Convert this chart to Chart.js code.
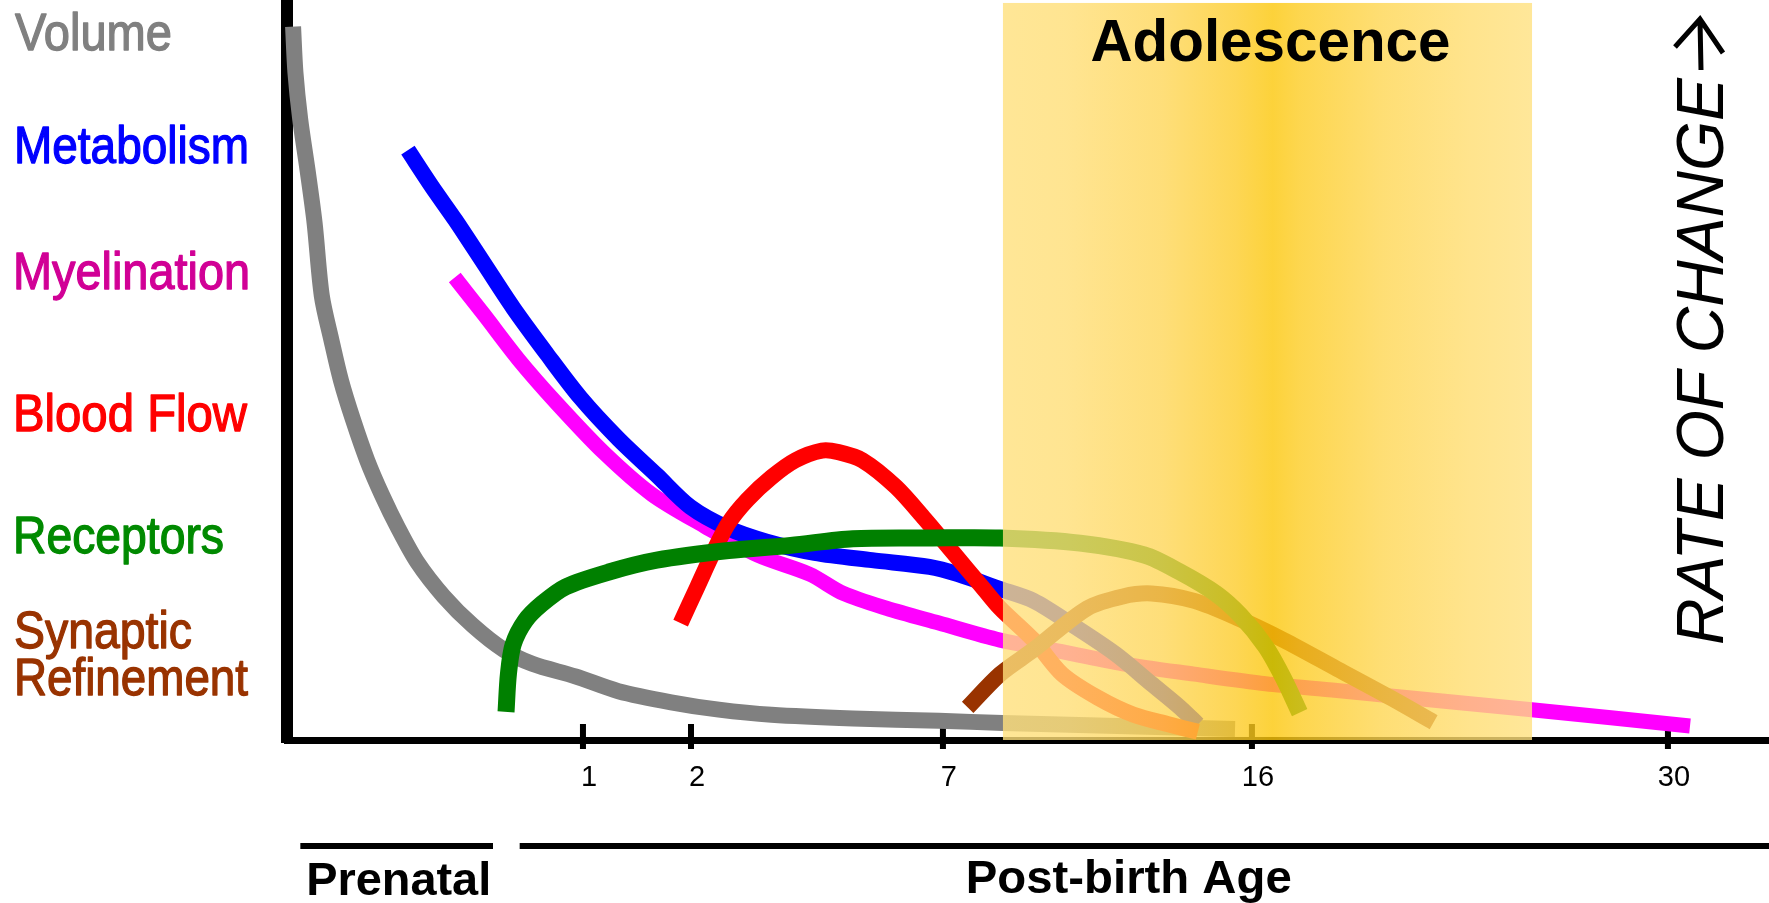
<!DOCTYPE html>
<html><head><meta charset="utf-8">
<script src="https://cdn.jsdelivr.net/npm/chart.js@4/dist/chart.umd.min.js"></script>
<style>html,body{margin:0;padding:0;background:#fff;overflow:hidden}canvas{display:block}</style>
</head><body>
<canvas id="c" width="1769" height="903"></canvas>
<script>
// ---- data (x: position along the age axis, 0-100; y: rate of change, 0-100) ----
const volume = [[0.41,96.4],[0.57,90.2],[0.89,83.9],[1.38,77.1],[1.86,69.9],[2.35,60.0],[2.99,54.1],[3.64,48.6],[4.45,43.3],[5.41,37.8],[6.39,33.2],[7.51,28.6],[8.80,24.0],[10.58,19.4],[12.52,15.5],[14.62,12.2],[16.55,10.3],[19.46,8.6],[22.36,6.6],[25.92,5.1],[29.14,4.1],[32.69,3.4],[38.18,2.9],[43.99,2.6],[48.31,2.3],[56.0,1.9],[63.97,1.5]];
const metabolism = [[8.16,79.7],[9.77,74.8],[11.38,70.2],[13.32,64.3],[15.26,58.4],[17.52,52.2],[19.78,46.3],[22.36,40.7],[24.95,35.8],[27.21,31.5],[29.79,28.6],[32.37,26.8],[35.60,25.3],[39.47,24.3],[43.35,23.4],[45.28,22.4],[48.12,20.4],[50.38,18.8],[53.03,15.5],[55.92,11.6],[58.33,7.6],[60.26,4.4],[61.46,2.1]];
const myelination = [[11.32,62.5],[13.32,57.4],[15.59,51.5],[18.16,45.6],[21.40,38.8],[24.62,33.2],[28.17,28.9],[31.73,25.0],[35.27,22.4],[37.54,19.8],[40.45,17.8],[43.99,15.8],[48.12,13.5],[51.58,12.2],[56.40,10.3],[61.22,8.9],[66.04,7.6],[70.85,6.7],[75.68,5.7],[83.99,4.1],[94.67,1.9]];
const bloodFlow = [[26.56,15.8],[27.69,20.7],[28.82,25.6],[29.79,29.3],[31.08,32.5],[32.69,35.5],[34.31,37.8],[36.09,39.1],[37.21,38.9],[38.83,37.8],[41.09,34.2],[43.02,29.9],[44.96,25.3],[46.90,20.7],[48.12,17.8],[50.38,13.5],[52.30,8.9],[54.72,5.7],[57.13,3.4],[59.53,2.1],[61.46,1.1]];
const receptors = [[14.78,3.8],[14.94,8.9],[15.26,12.9],[16.07,16.1],[17.20,18.4],[18.81,20.7],[21.72,22.7],[24.95,24.3],[29.79,25.6],[33.99,26.3],[38.18,27.2],[43.35,27.3],[48.12,27.3],[53.51,26.6],[57.85,25.0],[60.26,22.7],[62.67,19.8],[64.35,16.8],[66.04,12.6],[67.25,8.3],[68.33,3.7]];
const synapticRefinement = [[45.93,4.4],[48.12,8.9],[50.38,12.2],[53.99,17.8],[56.40,19.4],[58.33,19.8],[61.22,18.8],[64.11,16.5],[67.25,13.5],[70.86,9.6],[74.47,5.7],[77.37,2.4]];

const tickPositions = [19.97, 27.26, 44.26, 65.11, 93.18];
const tickLabels = ['1', '2', '7', '16', '30'];
const adolescenceSpan = [48.31, 84.01];
const prenatalSpan = [0.9, 13.9];
const postBirthSpan = [15.7, 100];

// ---- drawing ----
const FONT = "'Liberation Sans', Arial, sans-serif";
const toXY = a => a.map(p => ({x: p[0], y: p[1]}));
function ds(label, pts, color, order, width) {
  return {label, data: toXY(pts), borderColor: color, backgroundColor: color,
    borderWidth: width, pointRadius: 0, pointHoverRadius: 0, tension: 0.3,
    fill: false, borderCapStyle: 'butt', borderJoinStyle: 'round', order, clip: false};
}

function fitText(ctx, text, x, y, font, color, width, align, rot, stroke) {
  ctx.save();
  ctx.font = font; ctx.fillStyle = color; ctx.strokeStyle = color;
  ctx.textBaseline = 'alphabetic'; ctx.textAlign = 'left';
  const w = ctx.measureText(text).width;
  const s = width / w;
  ctx.translate(x, y);
  if (rot) ctx.rotate(rot);
  ctx.scale(s, 1);
  const x0 = align === 'center' ? -w / 2 : 0;
  ctx.fillText(text, x0, 0);
  if (stroke) { ctx.lineWidth = stroke; ctx.lineJoin = 'round'; ctx.strokeText(text, x0, 0); }
  ctx.restore();
}

const deco = {
  id: 'deco',
  beforeDatasetsDraw(chart) {
    const {ctx, chartArea: a, scales: {x}} = chart;
    ctx.save();
    ctx.fillStyle = '#000';
    ctx.fillRect(a.left - 6, 0, 12, a.bottom + 3);
    tickPositions.forEach(v => {
      const px = x.getPixelForValue(v);
      ctx.fillRect(px - 3, a.bottom - 16, 6, 25);
    });
    ctx.restore();
  },
  afterDatasetsDraw(chart) {
    const {ctx, scales: {x, y}} = chart;
    const x0 = x.getPixelForValue(adolescenceSpan[0]);
    const x1 = x.getPixelForValue(adolescenceSpan[1]);
    const yT = y.getPixelForValue(99.6), yB = y.getPixelForValue(0);
    const g = ctx.createLinearGradient(x0, 0, x1, 0);
    g.addColorStop(0.00, 'rgb(255,224,124)');
    g.addColorStop(0.12, 'rgb(255,222,118)');
    g.addColorStop(0.30, 'rgb(254,214,88)');
    g.addColorStop(0.44, 'rgb(253,204,42)');
    g.addColorStop(0.51, 'rgb(252,199,9)');
    g.addColorStop(0.56, 'rgb(253,204,34)');
    g.addColorStop(0.72, 'rgb(254,214,82)');
    g.addColorStop(0.88, 'rgb(255,221,112)');
    g.addColorStop(1.00, 'rgb(255,225,128)');
    ctx.save();
    ctx.globalAlpha = 0.8;
    ctx.fillStyle = g;
    ctx.fillRect(x0, yT, x1 - x0, yB - yT);
    ctx.restore();
  },
  afterDraw(chart) {
    const {ctx, chartArea: a, scales: {x}} = chart;
    const labelFont = "52px " + FONT;
    fitText(ctx, 'Volume', 15, 50, labelFont, '#808080', 157, 'left', 0, 1.3);
    fitText(ctx, 'Metabolism', 14, 163, labelFont, '#0000FF', 235, 'left', 0, 1.3);
    fitText(ctx, 'Myelination', 13, 289, labelFont, '#D10096', 237, 'left', 0, 1.3);
    fitText(ctx, 'Blood Flow', 13, 431, labelFont, '#FF0000', 234, 'left', 0, 1.3);
    fitText(ctx, 'Receptors', 13, 553, labelFont, '#008A00', 211, 'left', 0, 1.3);
    fitText(ctx, 'Synaptic', 14, 648, labelFont, '#993300', 178, 'left', 0, 1.3);
    fitText(ctx, 'Refinement', 14, 695, labelFont, '#993300', 234, 'left', 0, 1.3);

    const ax = (adolescenceSpan[0] + adolescenceSpan[1]) / 2 + 0.2;
    fitText(ctx, 'Adolescence', x.getPixelForValue(ax), 61, "bold 60px " + FONT, '#000', 360, 'center');

    // vertical axis caption with arrow
    fitText(ctx, 'RATE OF CHANGE', 1723, 645, "italic 66px " + FONT, '#000', 567, 'left', -Math.PI / 2);
    ctx.save();
    ctx.translate(1723, 645);
    ctx.rotate(-Math.PI / 2);
    ctx.strokeStyle = '#000'; ctx.lineWidth = 5; ctx.lineCap = 'butt'; ctx.lineJoin = 'miter';
    ctx.beginPath();
    ctx.moveTo(575, -22); ctx.lineTo(625, -23);
    ctx.moveTo(598, -48); ctx.lineTo(626, -23); ctx.lineTo(592, 0);
    ctx.stroke();
    ctx.restore();

    ctx.save();
    ctx.fillStyle = '#000';
    const ly = a.bottom + 103;
    const p0 = x.getPixelForValue(prenatalSpan[0]), p1 = x.getPixelForValue(prenatalSpan[1]);
    const q0 = x.getPixelForValue(postBirthSpan[0]), q1 = x.getPixelForValue(postBirthSpan[1]);
    ctx.fillRect(p0, ly, p1 - p0, 6);
    ctx.fillRect(q0, ly, q1 - q0, 6);
    ctx.restore();
    fitText(ctx, 'Prenatal', (p0 + p1) / 2 + 2, 895, "bold 46px " + FONT, '#000', 185, 'center');
    fitText(ctx, 'Post-birth Age', x.getPixelForValue(56.8), 893, "bold 47px " + FONT, '#000', 326, 'center');
  }
};

new Chart(document.getElementById('c'), {
  type: 'line',
  data: {
    datasets: [
      ds('Receptors', receptors, '#008000', 0, 17),
      ds('Synaptic Refinement', synapticRefinement, '#993300', 1, 16),
      ds('Blood Flow', bloodFlow, '#FF0000', 2, 16),
      ds('Metabolism', metabolism, '#0000FF', 3, 16),
      ds('Myelination', myelination, '#FF00FF', 4, 15),
      ds('Volume', volume, '#808080', 5, 16)
    ]
  },
  options: {
    responsive: false,
    animation: false,
    devicePixelRatio: 1,
    events: [],
    layout: {padding: {left: 287, right: 0, top: 0, bottom: 0}},
    plugins: {legend: {display: false}, tooltip: {enabled: false}, title: {display: false}},
    scales: {
      x: {
        type: 'linear', min: 0, max: 100, position: 'bottom',
        border: {display: true, color: '#000', width: 7},
        grid: {display: false, drawTicks: false},
        afterBuildTicks: s => { s.ticks = tickPositions.map(v => ({value: v})); },
        afterFit: s => { s.height = 163; s.paddingLeft = 0; s.paddingRight = 0; },
        ticks: {
          autoSkip: false, maxRotation: 0, minRotation: 0, padding: 21, labelOffset: 6,
          color: '#000', font: {family: FONT, size: 29},
          callback: (v, i) => tickLabels[i]
        }
      },
      y: {type: 'linear', min: 0, max: 100, display: false}
    }
  },
  plugins: [deco]
});
</script>
</body></html>
